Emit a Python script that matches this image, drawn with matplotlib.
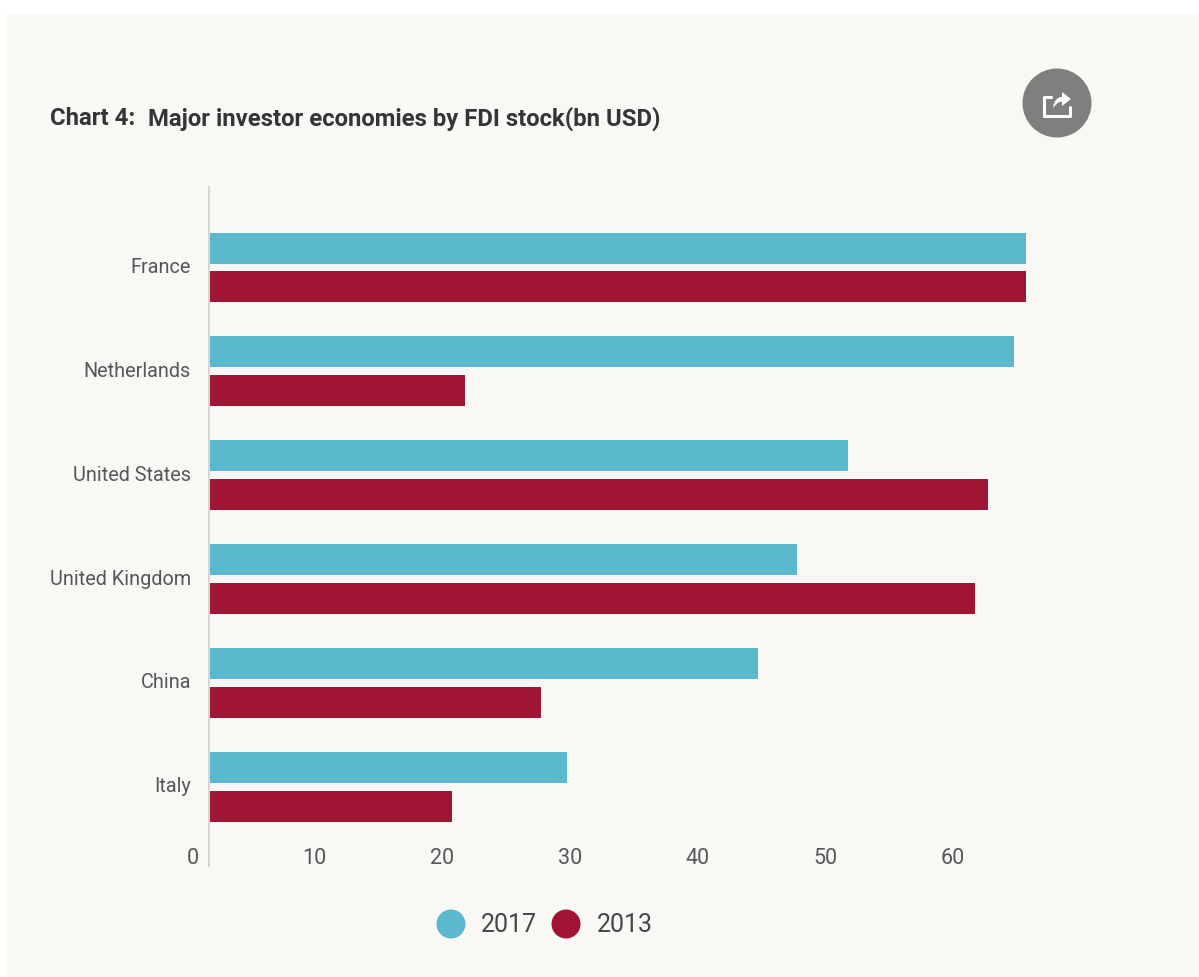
import matplotlib
matplotlib.use("Agg")
import matplotlib.pyplot as plt
from matplotlib.patches import Rectangle, Circle, PathPatch
from matplotlib.path import Path
from matplotlib.lines import Line2D

categories = ["France", "Netherlands", "United States", "United Kingdom", "China", "Italy"]
values_2017 = [66, 65, 52, 48, 45, 30]
values_2013 = [66, 22, 63, 62, 28, 21]
tick_values = [0, 10, 20, 30, 40, 50, 60]
series_names = ["2017", "2013"]
title_prefix = "Chart 4:"
title_main = "Major investor economies by FDI stock(bn USD)"

TEAL = "#5ab9cd"
CRIMSON = "#a01534"
PANEL = "#f8f8f5"
INK = "#55585a"
W, H = 1199, 978

plt.rcParams["font.family"] = ["Roboto", "DejaVu Sans"]
fig = plt.figure(figsize=(W / 100, H / 100), dpi=100, facecolor="white")

# Full-figure overlay in pixel coordinates for the panel and the share button
bg = fig.add_axes([0, 0, 1, 1])
bg.set_xlim(0, W)
bg.set_ylim(H, 0)
bg.axis("off")
bg.add_patch(Rectangle((6, 15), W - 6, H - 15, fc=PANEL, ec="none"))
bg.add_patch(Circle((1057, 104), 34.5, fc="#7f7f7d", ec="none"))
bg.add_line(Line2D([1051, 1044, 1044, 1070, 1070], [98, 98, 117, 117, 108],
                   color="white", lw=2.2, solid_capstyle="round", solid_joinstyle="round"))

# Share arrow: curved tail rising into a triangular head
arrow_verts = [(1053, 109), (1054, 101), (1058, 98), (1062, 98), (1062, 93), (1071, 100),
               (1062, 107), (1062, 103), (1059, 102), (1056, 105), (1053, 109), (1053, 109)]
arrow_codes = [Path.MOVETO, Path.CURVE4, Path.CURVE4, Path.CURVE4, Path.LINETO, Path.LINETO,
               Path.LINETO, Path.LINETO, Path.CURVE4, Path.CURVE4, Path.CURVE4, Path.CLOSEPOLY]
bg.add_patch(PathPatch(Path(arrow_verts, arrow_codes), fc="white", ec="none"))

# Bars: the value axis is cut a little above zero, as the baseline sits right of 0
ax_left, ax_right, ax_top, ax_bottom = 209, 1060, 188, 867
ax = fig.add_axes([ax_left / W, 1 - ax_bottom / H, (ax_right - ax_left) / W, (ax_bottom - ax_top) / H])
ax.patch.set_alpha(0)
x0_px, px_per_unit = 184.2, 12.76
ax.set_xlim((ax_left - x0_px) / px_per_unit, (ax_right - x0_px) / px_per_unit)
ax.set_ylim(ax_bottom, ax_top)

first_center = 249
step = 103.9
gap = 38.7
bar_h = 31
for i, (a, b) in enumerate(zip(values_2017, values_2013)):
    y = first_center + i * step
    ax.barh(y, a, height=bar_h, color=TEAL, linewidth=0)
    ax.barh(y + gap, b, height=bar_h, color=CRIMSON, linewidth=0)
    ax.annotate(categories[i], (0, y + gap / 2), xycoords=("axes fraction", "data"),
                xytext=(-18, 1), textcoords="offset pixels", ha="right", va="center",
                fontsize=14.3, color=INK, annotation_clip=False)

for s in ("top", "right", "bottom"):
    ax.spines[s].set_visible(False)
ax.spines["left"].set_color("#d5d5d3")
ax.spines["left"].set_linewidth(1.5)
ax.set_xticks([])
ax.set_yticks([])

# Value labels sit just right of their nominal positions, along the bottom of the axis
for v in tick_values:
    dx = 8.5 if v == 0 else 3
    ax.annotate(str(v), (v, 859), xycoords="data", xytext=(dx, 0), textcoords="offset pixels",
                ha="center", va="center", fontsize=15.5, color=INK, annotation_clip=False)

# Title
fig.text(50 / W, 1 - 118.5 / H, title_prefix, fontsize=17.2, fontweight="bold", color="#333537",
         ha="left", va="center")
fig.text(148 / W, 1 - 118.5 / H, title_main, fontsize=17.2, fontweight="bold", color="#333537",
         ha="left", va="center")

# Legend
for x_dot, x_txt, color, name in [(451, 481, TEAL, series_names[0]), (566, 597, CRIMSON, series_names[1])]:
    bg.add_patch(Circle((x_dot, 925), 14.5, fc=color, ec="none"))
    bg.text(x_txt, 925.5, name, fontsize=18, color="#44474a", ha="left", va="center")

fig.savefig("out.png", dpi=100, facecolor=fig.get_facecolor())
